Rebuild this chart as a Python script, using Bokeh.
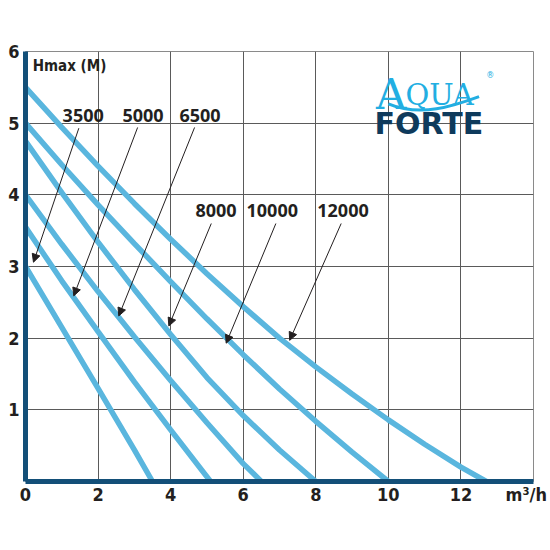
from bokeh.plotting import figure
from bokeh.models import Range1d, FixedTicker, Label, Arrow, NormalHead, ColumnDataSource, LabelSet
from bokeh.core.properties import value
from bokeh.embed import file_html
from bokeh.resources import INLINE

# ---- data ----
series_names = ["3500", "5000", "6500", "8000", "10000", "12000"]

q_3500 = [0, 1, 2, 3, 3.5]
h_3500 = [3.0, 2.15, 1.3, 0.44, 0]
q_5000 = [0, 1, 2, 3, 4, 5.1]
h_5000 = [3.55, 2.80, 2.09, 1.39, 0.72, 0]
q_6500 = [0, 1, 2, 3, 4, 5, 6, 6.5]
h_6500 = [4.0, 3.31, 2.65, 2.02, 1.41, 0.82, 0.25, 0]
q_8000 = [0, 1, 2, 3, 4, 5, 6, 7, 8]
h_8000 = [4.75, 4.03, 3.34, 2.68, 2.05, 1.45, 0.92, 0.44, 0]
q_10000 = [0, 1, 2, 3, 4, 5, 6, 7, 8, 9, 10]
h_10000 = [5.0, 4.42, 3.86, 3.32, 2.79, 2.27, 1.77, 1.29, 0.84, 0.41, 0]
q_12000 = [0, 1, 2, 3, 4, 5, 6, 7, 8, 9, 10, 11, 12, 12.7]
h_12000 = [5.5, 4.94, 4.40, 3.88, 3.38, 2.90, 2.44, 2.00, 1.60, 1.22, 0.86, 0.52, 0.20, 0]

label_x = [1.59, 3.24, 4.81, 5.25, 6.8, 8.75]
label_y = [5.02, 5.02, 5.02, 3.69, 3.69, 3.69]
tail_x = [1.47, 3.09, 4.66, 5.12, 6.9, 8.7]
tail_y = [4.93, 4.94, 4.94, 3.6, 3.6, 3.6]
head_x = [0.22, 1.33, 2.57, 3.95, 5.53, 7.28]
head_y = [3.06, 2.59, 2.31, 2.17, 1.93, 1.97]

x_ticks = [0, 2, 4, 6, 8, 10, 12, 13.8]
x_tick_text = {13.8: "m³/h"}
y_ticks = [1, 2, 3, 4, 5, 6]
grid_x = [2, 4, 6, 8, 10, 12, 14]
grid_y = [1, 2, 3, 4, 5, 6]

CURVE = "#5ab6de"
AXIS = "#134f78"
TXT = "#231f20"
COND = "'Liberation Sans Narrow', 'DejaVu Sans Condensed', Roboto, sans-serif"
SANS = "'Open Sans', 'Noto Sans', sans-serif"

p = figure(width=550, height=513, x_range=Range1d(0, 14), y_range=Range1d(0, 6),
           output_backend="svg", toolbar_location=None,
           min_border_left=25, min_border_right=17, min_border_top=51, min_border_bottom=32)
p.background_fill_color = "white"
p.border_fill_color = "white"
p.outline_line_color = "#8a8a8a"
p.outline_line_width = 1

# grid
p.xgrid.ticker = FixedTicker(ticks=grid_x)
p.ygrid.ticker = FixedTicker(ticks=grid_y)
for g in (p.xgrid, p.ygrid):
    g.grid_line_color = "#5a5a5a"
    g.grid_line_width = 1

# axes
for ax in (p.xaxis, p.yaxis):
    ax.axis_line_color = AXIS
    ax.axis_line_width = 5
    ax.major_tick_line_color = None
    ax.minor_tick_line_color = None
    ax.major_label_text_font = COND
    ax.major_label_text_font_style = "bold"
    ax.major_label_text_font_size = "18px"
    ax.major_label_text_color = TXT
p.xaxis.ticker = FixedTicker(ticks=x_ticks)
p.xaxis.major_label_overrides = x_tick_text
p.yaxis.ticker = FixedTicker(ticks=y_ticks)
p.xaxis.major_label_standoff = -4
p.yaxis.major_label_standoff = 0

# curves
curves = [(q_3500, h_3500), (q_5000, h_5000), (q_6500, h_6500),
          (q_8000, h_8000), (q_10000, h_10000), (q_12000, h_12000)]
for q, h in curves:
    p.line(q, h, line_color=CURVE, line_width=5.5)

# arrows
arr_src = ColumnDataSource(dict(x0=tail_x, y0=tail_y, x1=head_x, y1=head_y))
p.add_layout(Arrow(end=NormalHead(size=8, fill_color=TXT, line_color=TXT, line_width=1),
                   x_start="x0", y_start="y0", x_end="x1", y_end="y1",
                   line_color=TXT, line_width=1, source=arr_src))

# series labels
lab_src = ColumnDataSource(dict(x=label_x, y=label_y, t=series_names))
p.add_layout(LabelSet(x="x", y="y", text="t", source=lab_src, text_align="center",
                      text_baseline="alphabetic", text_font=value(SANS),
                      text_font_style="bold", text_font_size="18px", text_color=TXT))

# axis title
p.add_layout(Label(x=0.2, y=5.93, text="Hmax (M)", text_font=COND, text_font_style="bold",
                   text_font_size="15px", text_color=TXT, text_baseline="top"))

# logo
LOGO_BLUE = "#22aee2"
p.add_layout(Label(x=9.66, y=5.40, text="A", text_font="DejaVu Serif", text_font_size="42px",
                   text_color=LOGO_BLUE, text_baseline="alphabetic"))
p.add_layout(Label(x=10.47, y=5.40, text="QUA", text_font="DejaVu Serif", text_font_size="29px",
                   text_color=LOGO_BLUE, text_baseline="alphabetic"))
p.add_layout(Label(x=12.7, y=5.66, text="®", text_font="DejaVu Sans", text_font_size="8px",
                   text_color=LOGO_BLUE, text_baseline="alphabetic"))
p.bezier(x0=[10.0], y0=[5.27], x1=[12.5], y1=[5.37], cx0=[10.9], cy0=[5.08], cx1=[11.8], cy1=[5.24],
         line_color=LOGO_BLUE, line_width=3)
p.add_layout(Label(x=9.62, y=5.0, text="FORTE", text_font="DejaVu Sans", text_font_style="bold",
                   text_font_size="30px", text_color="#0e3a5c", text_baseline="alphabetic"))

open("out.html", "w").write(file_html(p, INLINE))
